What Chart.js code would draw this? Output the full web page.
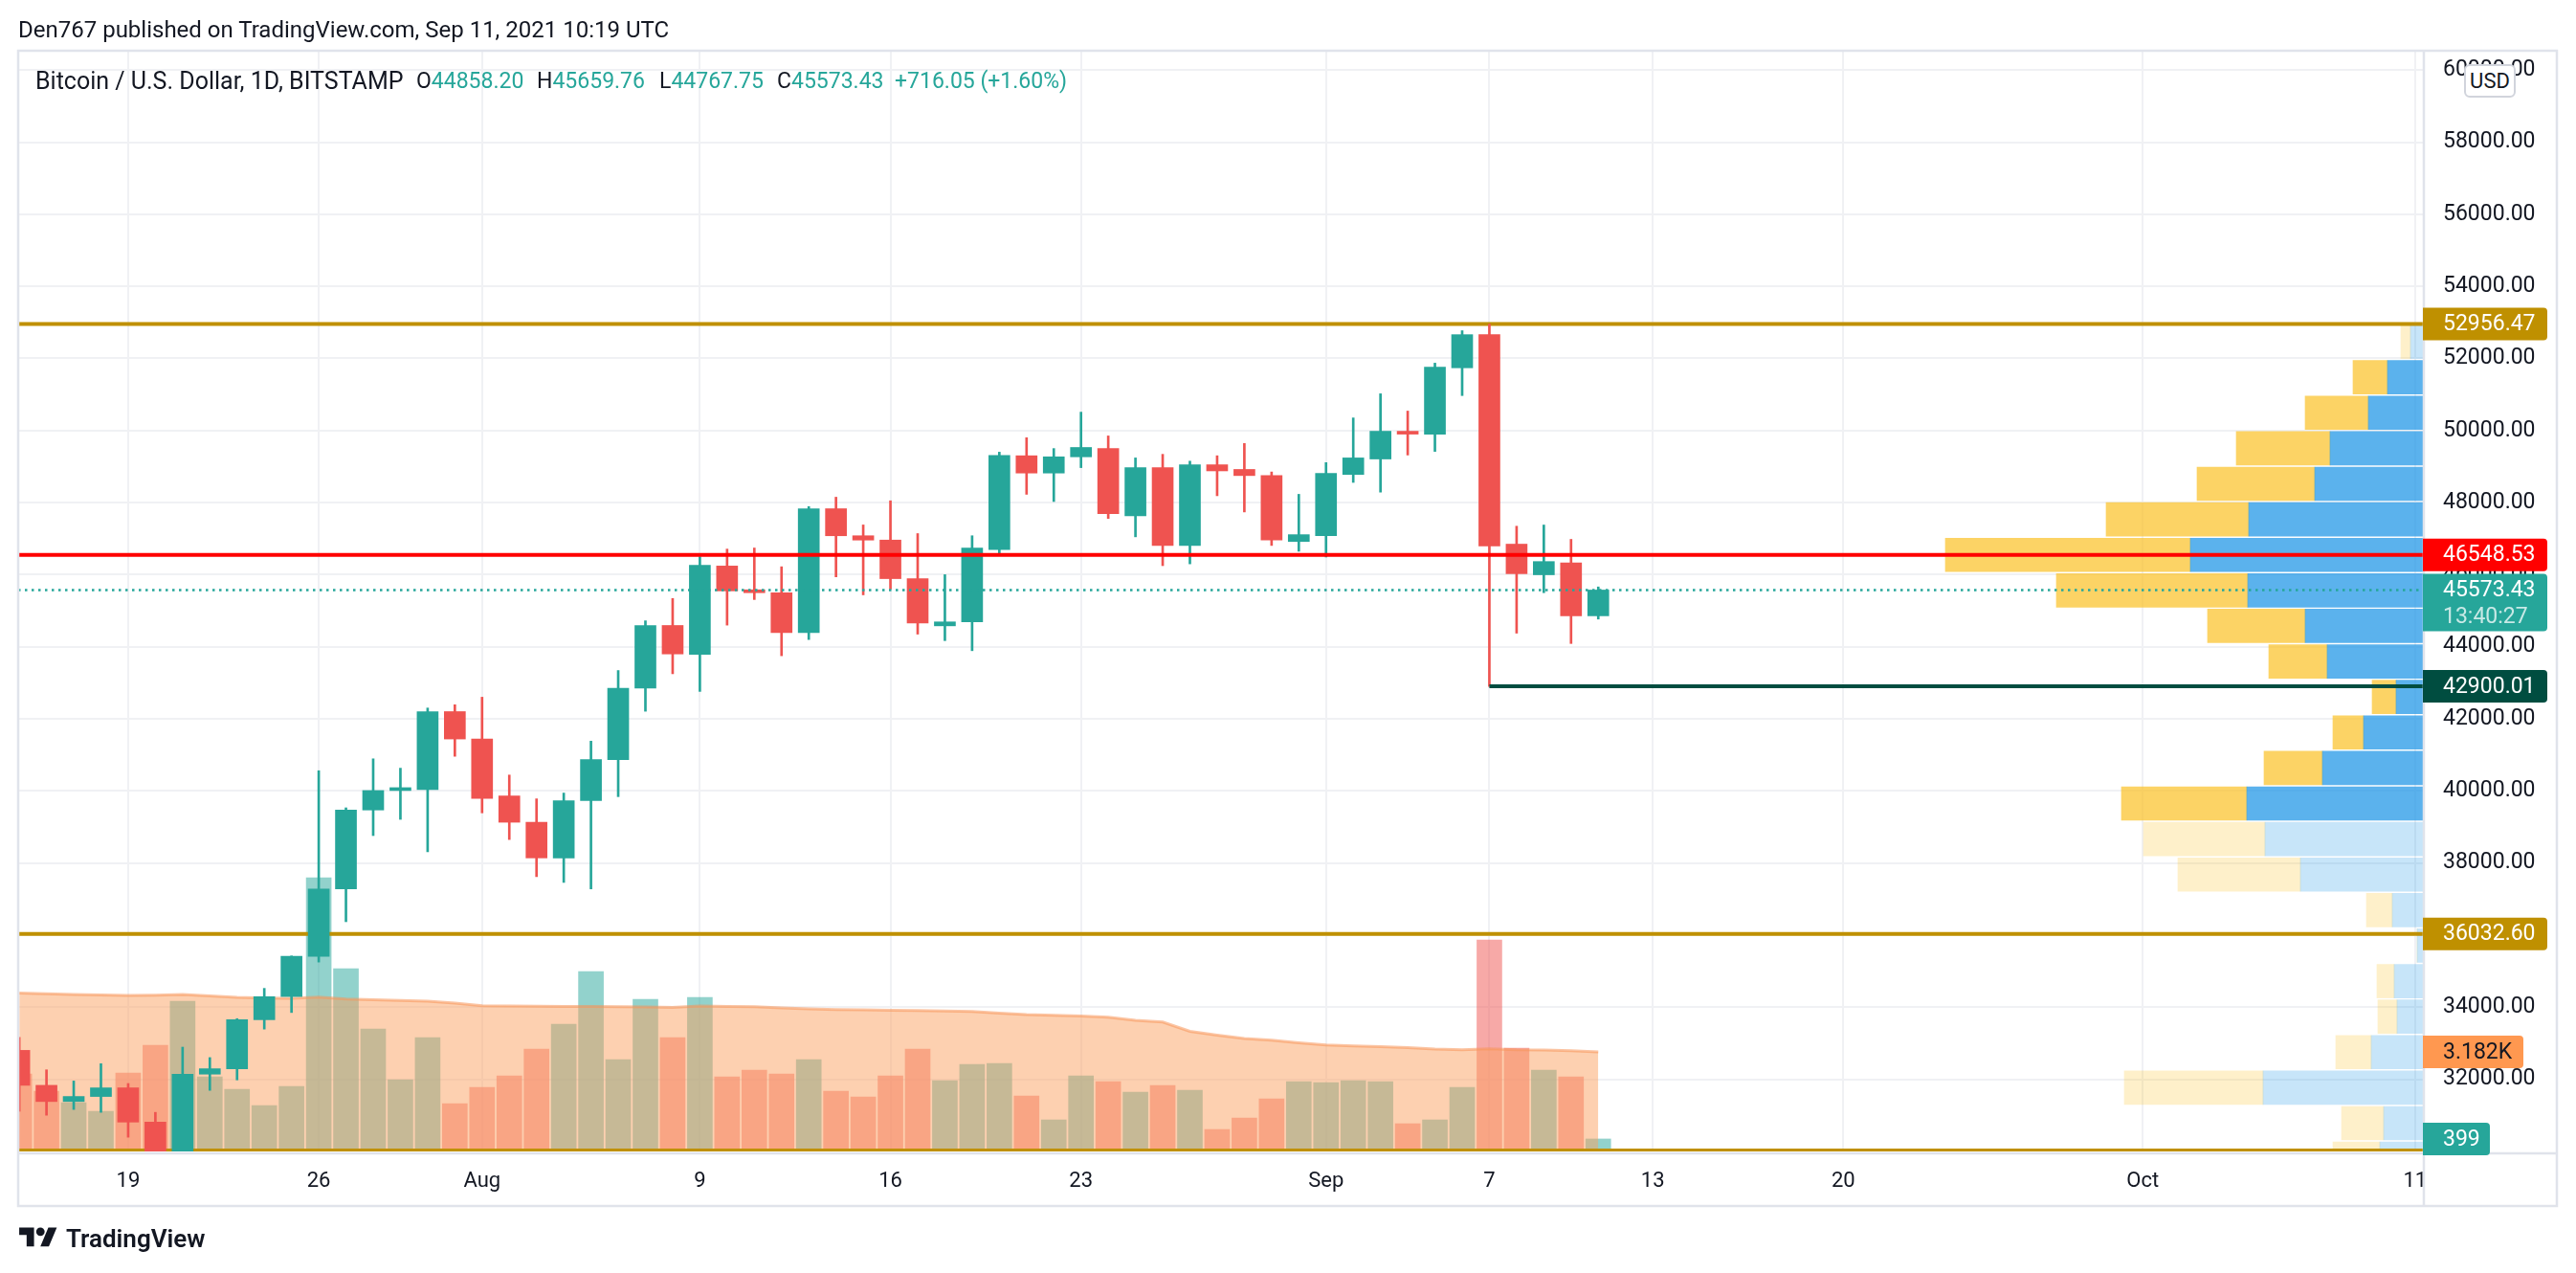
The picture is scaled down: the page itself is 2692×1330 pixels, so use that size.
<!DOCTYPE html>
<html lang="en">
<head>
<meta charset="UTF-8">
<title>Bitcoin / U.S. Dollar, 1D, BITSTAMP</title>
<script src="https://cdn.jsdelivr.net/npm/chart.js"></script>
<style>
body {
    margin: 0;
    background: #fff;
    font-family: Roboto, "Open Sans", Arial, sans-serif;
    color: #131722;
}
#page { position: relative; width: 2692px; height: 1330px; overflow: hidden; }
#btcChart { position: absolute; left: 0; top: 0; }
.txt { position: absolute; white-space: pre; line-height: 1; }
.published { left: 19px; top: 19px; font-size: 24px; }
.legend { top: 73px; font-size: 23px; }
.legend.name { top: 72px; font-size: 25px; }
.legend .v { color: #26a69a; }
.usd {
    position: absolute; left: 2575px; top: 67px; width: 50px; height: 31px;
    border: 2px solid #d1d4dc; border-radius: 6px; background: #fff;
    font-size: 22px; line-height: 31px; text-align: center;
}
.brand { position: absolute; left: 20px; top: 1278px; display: flex; align-items: center; gap: 9px; font-size: 26px; font-weight: 600; }
</style>
</head>
<body>
<div id="page">
<canvas id="btcChart" width="2692" height="1330"></canvas>

<div class="txt published">Den767 published on TradingView.com, Sep 11, 2021 10:19 UTC</div>
<div class="txt legend name" style="left:37px">Bitcoin / U.S. Dollar, 1D, BITSTAMP</div>
<div class="txt legend" style="left:435px">O<span class="v">44858.20</span></div>
<div class="txt legend" style="left:561px">H<span class="v">45659.76</span></div>
<div class="txt legend" style="left:689px">L<span class="v">44767.75</span></div>
<div class="txt legend" style="left:812px">C<span class="v">45573.43</span></div>
<div class="txt legend" style="left:935px"><span class="v">+716.05 (+1.60%)</span></div>
<div class="usd">USD</div>
<div class="brand">
  <svg width="40" height="31" viewBox="0 0 36 28"><path fill="#131722" d="M14 22H7V11H0V4h14v18zM28 22h-8l7.5-18h8L28 22z"/><circle fill="#131722" cx="20" cy="8" r="4"/></svg>
  <span>TradingView</span>
</div>
</div>

<script>
// daily candles, BITSTAMP BTCUSD
const dates = [
 "2021-07-15","2021-07-16","2021-07-17","2021-07-18","2021-07-19","2021-07-20","2021-07-21","2021-07-22",
 "2021-07-23","2021-07-24","2021-07-25","2021-07-26","2021-07-27","2021-07-28","2021-07-29","2021-07-30",
 "2021-07-31","2021-08-01","2021-08-02","2021-08-03","2021-08-04","2021-08-05","2021-08-06","2021-08-07",
 "2021-08-08","2021-08-09","2021-08-10","2021-08-11","2021-08-12","2021-08-13","2021-08-14","2021-08-15",
 "2021-08-16","2021-08-17","2021-08-18","2021-08-19","2021-08-20","2021-08-21","2021-08-22","2021-08-23",
 "2021-08-24","2021-08-25","2021-08-26","2021-08-27","2021-08-28","2021-08-29","2021-08-30","2021-08-31",
 "2021-09-01","2021-09-02","2021-09-03","2021-09-04","2021-09-05","2021-09-06","2021-09-07","2021-09-08",
 "2021-09-09","2021-09-10","2021-09-11"
];
const opens = [
 32800,31830,31380,31520,31760,30810,29800,32140,32290,33650,34290,35410,37280,39470,40010,40040,
 42200,41440,39860,39130,38140,39730,40870,42850,44590,43790,46240,45570,45500,44390,47830,47080,
 46960,45890,44580,44690,46700,49300,48820,49270,49500,47630,48970,46810,49050,48920,48750,46920,
 47080,48780,49210,49950,49900,51740,52660,46847,45997,46330,44858.20
];
const highs = [
 33160,32260,31950,32430,31880,31080,32890,32600,33680,34520,35420,40560,39530,40890,40630,42300,
 42390,42600,40440,39780,39940,41380,43340,44720,45340,46500,46710,46740,46220,47890,48150,47380,
 48050,47140,46000,47080,49400,49800,49500,50510,49850,49240,49340,49150,49300,49640,48850,48230,
 49110,50350,51020,50540,51870,52770,52956.47,47345,47378,46980,45659.76
];
const lows = [
 31110,31000,31160,31080,30390,29300,29500,31690,31980,33390,33850,35250,36370,38760,39210,38310,
 40960,39390,38650,37620,37460,37280,39840,42210,43250,42760,44600,45310,43750,44200,45940,45440,
 45600,44350,44170,43890,46590,48230,48030,48970,47560,47050,46250,46300,48190,47740,46810,46650,
 46490,48560,48290,49320,49420,50970,42900.01,44377,45500,44090,44767.75
];
const closes = [
 31830,31380,31520,31760,30810,29800,32140,32290,33650,34290,35410,37280,39470,40010,40040,42200,
 41440,39790,39130,38140,39730,40870,42850,44590,43800,46260,45550,45500,44390,47830,47080,46960,
 45890,44660,44690,46740,49310,48820,49270,49530,47690,48970,46810,49050,48880,48750,46960,47110,
 48810,49240,49980,49900,51760,52660,46794,46027,46364,44858.20,45573.43
];
const volumes = [
 2477,1927,1560,1284,2508,3394,4801,2385,1988,1468,2080,8746,5841,3914,2294,3639,
 1529,2049,2416,3272,4067,5749,2936,4862,3639,4924,2385,2599,2477,2936,1927,1743,
 2416,3272,2263,2783,2813,1774,1009,2416,2232,1896,2110,1957,703,1070,1682,2232,
 2202,2263,2232,887,1009,2049,6758,3303,2599,2385,399
];
const volumeMA = [
 5066,5040,5020,5000,4985,4995,5015,4970,4924,4905,4893,4934,4873,4850,4825,4801,
 4740,4659,4650,4645,4638,4633,4628,4618,4608,4648,4638,4628,4590,4557,4540,4525,
 4515,4505,4490,4475,4420,4373,4350,4332,4291,4190,4138,3843,3721,3609,3558,3476,
 3405,3374,3354,3323,3272,3252,3282,3252,3242,3221,3182
];

// time axis (days after 2021-07-19)
const tickDays = [0, 7, 13, 21, 28, 35, 44, 50, 56, 63, 74, 84];
const tickLabels = ["19", "26", "Aug", "9", "16", "23", "Sep", "7", "13", "20", "Oct", "11"];
const priceTicks = [32000,34000,36000,38000,40000,42000,44000,46000,48000,50000,52000,54000,56000,58000,60000];

// visible range volume profile, 24 rows
const profilePrices = [
 52463,51478,50492,49506,48521,47535,46549,45564,44578,43592,42607,41621,
 40635,39650,38664,37678,36692,35707,34721,33736,32750,31764,30779,29793
];
const profileUp = [
 390,1110,1710,2910,3390,5460,7290,5490,3690,3000,840,1860,
 3150,5520,4950,3840,960,180,900,810,1620,5010,1230,1350
];
const profileDown = [
 300,1080,1980,2940,3690,4470,7680,6000,3060,1830,750,960,
 1830,3930,3810,3840,810,0,540,600,1110,4350,1320,1470
];
const valueArea = [false,true,true,true,true,true,true,true,true,true,true,true,true,true,false,false,false,false,false,false,false,false,false,false];

// drawn levels
const LEVEL_HIGH = 52956.47;
const LEVEL_RED = 46548.53;
const LEVEL_LOW = 42900.01;
const LEVEL_SUPPORT = 36032.60;
const LEVEL_BOTTOM = 30020;
const LAST_PRICE = 45573.43;
const COUNTDOWN = "13:40:27";

const X_MIN = -4.04, X_MAX = 84.29;
const Y_MIN = 29995, Y_MAX = 60539;
const VOL_MAX = 35190;
const PROF_MAX = 75390;

const UP = '#26a69a', DOWN = '#ef5350', GOLD = '#bf9000', GRID = '#f0f1f4';

const DAY0 = Date.UTC(2021, 6, 19);
const xs = dates.map(d => (Date.parse(d) - DAY0) / 86400000);
const upDay = closes.map((c, i) => c >= opens[i]);
const last = dates.length - 1;

function levelLine(y, x0, color, width, order, dash){
    return {
        type: 'line', data: [{x: x0, y: y}, {x: X_MAX, y: y}],
        borderColor: color, borderWidth: width, borderDash: dash || [],
        pointRadius: 0, fill: false, order: order, xAxisID: 'x', yAxisID: 'y'
    };
}

function drawTag(ctx, x, yc, w, bg, fg, lines){
    const h = lines.length > 1 ? 60 : 34;
    const top = yc - 17;
    ctx.fillStyle = bg;
    ctx.beginPath();
    ctx.roundRect(x, top, w, h, [0, 4, 4, 0]);
    ctx.fill();
    ctx.textBaseline = 'middle';
    ctx.textAlign = 'left';
    ctx.font = '23px Roboto, sans-serif';
    lines.forEach((t, i) => {
        ctx.fillStyle = i === 0 ? fg : 'rgba(255,255,255,0.75)';
        ctx.fillText(t, x + 21, yc + 1 + i * 28);
    });
}

const paneFrame = {
    id: 'paneFrame',
    afterDraw(chart){
        const {ctx, chartArea: a} = chart;
        const right = a.right + 140, bottom = a.bottom + 57;
        ctx.save();
        ctx.strokeStyle = '#e0e3eb';
        ctx.lineWidth = 2.5;
        ctx.strokeRect(a.left, a.top, right - a.left, bottom - a.top);
        ctx.beginPath();
        ctx.moveTo(a.right + 1, a.top); ctx.lineTo(a.right + 1, bottom);
        ctx.moveTo(a.left, a.bottom + 2); ctx.lineTo(right, a.bottom + 2);
        ctx.stroke();
        ctx.restore();
    }
};

const axisTags = {
    id: 'axisTags',
    afterDraw(chart){
        const {ctx, chartArea: a, scales} = chart;
        const y = scales.y, yv = scales.yVol;
        ctx.save();
        drawTag(ctx, a.right, y.getPixelForValue(LEVEL_HIGH), 130, GOLD, '#fff', [LEVEL_HIGH.toFixed(2)]);
        drawTag(ctx, a.right, y.getPixelForValue(LEVEL_SUPPORT), 130, GOLD, '#fff', [LEVEL_SUPPORT.toFixed(2)]);
        drawTag(ctx, a.right, y.getPixelForValue(LEVEL_LOW), 130, '#004d40', '#fff', [LEVEL_LOW.toFixed(2)]);
        drawTag(ctx, a.right, y.getPixelForValue(LEVEL_RED), 130, '#ff0000', '#fff', [LEVEL_RED.toFixed(2)]);
        drawTag(ctx, a.right, y.getPixelForValue(LAST_PRICE), 130, UP, '#fff', [LAST_PRICE.toFixed(2), COUNTDOWN]);
        drawTag(ctx, a.right, yv.getPixelForValue(volumeMA[last]), 105, '#ff9850', '#131722', [(volumeMA[last] / 1000).toFixed(3) + 'K']);
        drawTag(ctx, a.right, yv.getPixelForValue(volumes[last]), 70, UP, '#fff', [String(volumes[last])]);
        ctx.restore();
    }
};

const datasets = [
    levelLine(LAST_PRICE, X_MIN, UP, 2.5, 0, [2.5, 4.5]),
    levelLine(LEVEL_LOW, xs[dates.indexOf("2021-09-07")], '#004d40', 4, 1),
    levelLine(LEVEL_RED, X_MIN, '#ff0000', 4, 2),
    {
        label: 'body', order: 3, xAxisID: 'x', yAxisID: 'y',
        data: xs.map((x, i) => ({x: x, y: [opens[i], closes[i]]})),
        backgroundColor: upDay.map(u => u ? UP : DOWN),
        barThickness: 22, minBarLength: 3, grouped: false, borderWidth: 0
    },
    {
        label: 'wick', order: 4, xAxisID: 'x', yAxisID: 'y',
        data: xs.map((x, i) => ({x: x, y: [lows[i], highs[i]]})),
        backgroundColor: upDay.map(u => u ? UP : DOWN),
        barThickness: 2, grouped: false, borderWidth: 0
    },
    levelLine(LEVEL_HIGH, X_MIN, GOLD, 4, 5),
    levelLine(LEVEL_SUPPORT, X_MIN, GOLD, 4, 5),
    levelLine(LEVEL_BOTTOM, X_MIN, GOLD, 4, 5),
    {
        label: 'profile up', order: 6, indexAxis: 'y', xAxisID: 'xProf', yAxisID: 'y',
        data: profilePrices.map((p, i) => ({x: [0, profileUp[i]], y: p})),
        backgroundColor: valueArea.map(v => v ? 'rgba(21,146,230,0.7)' : 'rgba(21,146,230,0.24)'),
        barThickness: 35, grouped: false, borderWidth: 0
    },
    {
        label: 'profile down', order: 6, indexAxis: 'y', xAxisID: 'xProf', yAxisID: 'y',
        data: profilePrices.map((p, i) => ({x: [profileUp[i], profileUp[i] + profileDown[i]], y: p})),
        backgroundColor: valueArea.map(v => v ? 'rgba(251,193,35,0.7)' : 'rgba(251,193,35,0.24)'),
        barThickness: 35, grouped: false, borderWidth: 0
    },
    {
        type: 'line', label: 'volume MA', order: 7, xAxisID: 'x', yAxisID: 'yVol',
        data: xs.map((x, i) => ({x: x, y: volumeMA[i]})),
        borderColor: 'rgba(248,150,90,0.55)', borderWidth: 3,
        backgroundColor: 'rgba(251,161,97,0.5)', fill: 'origin', pointRadius: 0, tension: 0
    },
    {
        label: 'volume', order: 8, xAxisID: 'x', yAxisID: 'yVol',
        data: xs.map((x, i) => ({x: x, y: volumes[i]})),
        backgroundColor: upDay.map(u => u ? 'rgba(38,166,154,0.5)' : 'rgba(239,83,80,0.5)'),
        barThickness: 26, grouped: false, borderWidth: 0
    }
];

new Chart(document.getElementById('btcChart'), {
    type: 'bar',
    data: { datasets: datasets },
    options: {
        responsive: false,
        animation: false,
        devicePixelRatio: 1,
        events: [],
        layout: { padding: { left: 19, top: 53, right: 20, bottom: 70 } },
        plugins: { legend: { display: false }, tooltip: { enabled: false } },
        scales: {
            x: {
                type: 'linear', position: 'bottom', min: X_MIN, max: X_MAX, offset: false,
                afterBuildTicks: ax => { ax.ticks = tickDays.map(v => ({value: v})); },
                afterFit: ax => { ax.height = 57; },
                ticks: {
                    autoSkip: false, maxRotation: 0, padding: 18, color: '#131722',
                    font: { family: 'Roboto', size: 22 },
                    callback: v => tickLabels[tickDays.indexOf(v)]
                },
                grid: { color: GRID, lineWidth: 2, drawTicks: false, offset: false },
                border: { display: false }
            },
            y: {
                type: 'linear', position: 'right', min: Y_MIN, max: Y_MAX, offset: false,
                afterBuildTicks: ax => { ax.ticks = priceTicks.map(v => ({value: v})); },
                afterFit: ax => { ax.width = 140; },
                ticks: {
                    padding: 21, crossAlign: 'near', color: '#131722',
                    font: { family: 'Roboto', size: 23 },
                    callback: v => v.toFixed(2)
                },
                grid: { color: GRID, lineWidth: 2, drawTicks: false, offset: false },
                border: { display: false }
            },
            yVol: { type: 'linear', display: false, min: 0, max: VOL_MAX, offset: false },
            xProf: { type: 'linear', display: false, reverse: true, min: 0, max: PROF_MAX, offset: false, grid: { offset: false } }
        }
    },
    plugins: [paneFrame, axisTags]
});
</script>
</body>
</html>
